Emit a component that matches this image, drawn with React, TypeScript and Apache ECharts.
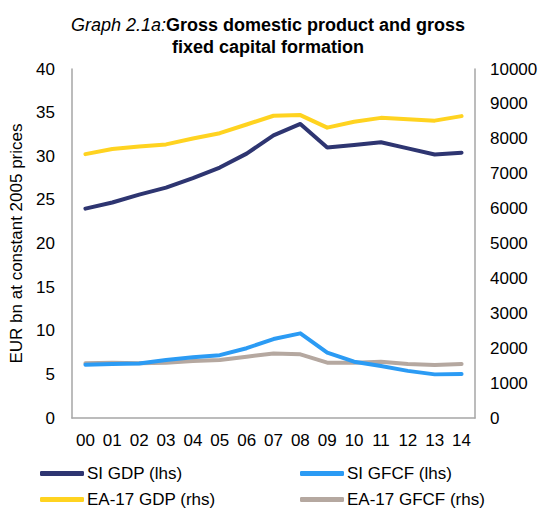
import React, { useEffect, useRef } from "react";
import * as echarts from "echarts";

const categories = ["00","01","02","03","04","05","06","07","08","09","10","11","12","13","14"];
const siGdp = [24.0, 24.7, 25.6, 26.4, 27.5, 28.7, 30.3, 32.4, 33.7, 31.0, 31.3, 31.6, 30.9, 30.2, 30.4];
const siGfcf = [6.1, 6.2, 6.25, 6.65, 6.95, 7.2, 8.0, 9.05, 9.7, 7.5, 6.45, 5.95, 5.4, 5.0, 5.05];
const eaGdp = [7560, 7710, 7780, 7840, 8010, 8160, 8410, 8660, 8680, 8320, 8490, 8600, 8560, 8520, 8650];
const eaGfcf = [1570, 1585, 1570, 1585, 1630, 1660, 1755, 1850, 1825, 1585, 1585, 1615, 1550, 1520, 1550];

const FONT = "Liberation Sans, Arial, sans-serif";

export default function App() {
  const ref = useRef<HTMLDivElement>(null);
  useEffect(() => {
    if (!ref.current) return;
    const chart = echarts.init(ref.current, undefined, { renderer: "svg" });
    const lineSeries = (name: string, data: number[], color: string, yAxisIndex: number) => ({
      name,
      type: "line",
      data,
      yAxisIndex,
      symbol: "none",
      lineStyle: { color, width: 4, cap: "round", join: "round" },
      itemStyle: { color },
    });
    const legendItem = (name: string, left: number, top: number) => ({
      data: [name],
      left,
      top,
      padding: 0,
      itemWidth: 44,
      itemHeight: 5,
      icon: "roundRect",
      textStyle: { color: "#000", fontSize: 17, fontFamily: FONT, padding: [0, 0, 0, -2] },
    });
    chart.setOption({
      animation: false,
      textStyle: { fontFamily: FONT },
      title: {
        text: "{i|Graph 2.1a:}{b|Gross domestic product and gross}\n{b|fixed capital formation}",
        left: 263,
        textAlign: "center",
        top: 9,
        textStyle: {
          rich: {
            i: { fontStyle: "italic", fontWeight: "normal", fontSize: 18, color: "#000", fontFamily: FONT, lineHeight: 22 },
            b: { fontWeight: "bold", fontSize: 18, color: "#000", fontFamily: FONT, lineHeight: 22 },
          },
        },
      },
      grid: { left: 72, right: 67, top: 69, bottom: 90, containLabel: false },
      xAxis: {
        type: "category",
        data: categories,
        boundaryGap: true,
        axisLine: { lineStyle: { color: "#a6a6a6", width: 1.5 } },
        axisTick: { show: false },
        axisLabel: { color: "#000", fontSize: 17, margin: 14, fontFamily: FONT, interval: 0 },
      },
      yAxis: [
        {
          type: "value",
          min: 0,
          max: 40,
          interval: 5,
          name: "EUR bn at constant 2005 prices",
          nameLocation: "middle",
          nameGap: 47,
          nameTextStyle: { color: "#000", fontSize: 17, fontFamily: FONT },
          axisLine: { show: true, lineStyle: { color: "#a6a6a6", width: 1.5 } },
          axisTick: { show: false },
          splitLine: { show: false },
          axisLabel: { color: "#000", fontSize: 17, margin: 17, fontFamily: FONT },
        },
        {
          type: "value",
          min: 0,
          max: 10000,
          interval: 1000,
          position: "right",
          axisLine: { show: true, lineStyle: { color: "#a6a6a6", width: 1.5 } },
          axisTick: { show: false },
          splitLine: { show: false },
          axisLabel: { color: "#000", fontSize: 17, margin: 15, fontFamily: FONT, formatter: (v: number) => String(v) },
        },
      ],
      legend: [
        legendItem("SI GDP (lhs)", 40, 465),
        legendItem("EA-17 GDP (rhs)", 40, 491),
        legendItem("SI GFCF (lhs)", 300, 465),
        legendItem("EA-17 GFCF (rhs)", 300, 491),
      ],
      series: [
        lineSeries("EA-17 GFCF (rhs)", eaGfcf, "#b5a8a0", 1),
        lineSeries("SI GFCF (lhs)", siGfcf, "#2b9bf4", 0),
        lineSeries("EA-17 GDP (rhs)", eaGdp, "#ffd320", 1),
        lineSeries("SI GDP (lhs)", siGdp, "#2e3571", 0),
      ],
    });
    return () => chart.dispose();
  }, []);
  return <div ref={ref} style={{ width: 542, height: 508, position: "absolute", left: 0, top: 0 }} />;
}
